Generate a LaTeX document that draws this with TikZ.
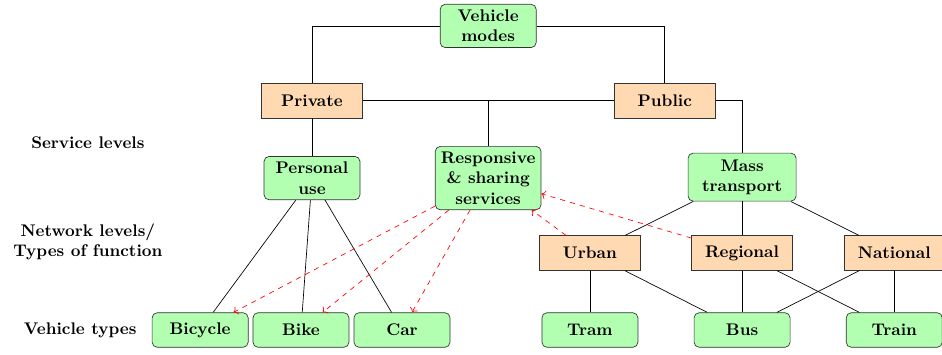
\documentclass[tikz,border=0pt]{standalone}
\usepackage{tikz}
\usetikzlibrary{positioning,arrows.meta}

\begin{document}
\begin{tikzpicture}[
  font=\bfseries,
  mode/.style={draw=black!80, rounded corners=3pt, fill=green!30, align=center, minimum width=2cm, minimum height=0.72cm},
  netlevel/.style={draw=black!80, fill=orange!30, align=center, minimum width=2.1cm, minimum height=0.72cm},
  rowlabel/.style={align=center},
  share/.style={->, red, dashed}
]
\useasboundingbox (0,0) rectangle (19.625,-7.375);
% row labels
\node[rowlabel] (lblservice) at (1.83,-2.98) {Service levels};
\node[rowlabel] (lblnetwork) at (1.83,-5.04) {Network levels/\\Types of function};
\node[rowlabel] (lbltypes) at (1.67,-6.875) {Vehicle types};
% tree
\node[mode] (modes) at (10.17,-0.54) {Vehicle\\modes};
\node[netlevel] (private) at (6.5,-2.1) {Private};
\node[netlevel] (public) at (13.85,-2.1) {Public};
\node[mode] (personal) at (6.5,-3.71) {Personal\\use};
\node[mode] (responsive) at (10.17,-3.71) {Responsive\\\& sharing\\services};
\node[mode, minimum width=2.25cm, minimum height=1cm] (mass) at (15.46,-3.69) {Mass\\transport};
\node[netlevel] (urban) at (12.29,-5.27) {Urban};
\node[netlevel] (regional) at (15.46,-5.27) {Regional};
\node[netlevel] (national) at (18.63,-5.27) {National};
\node[mode] (bicycle) at (4.17,-6.875) {Bicycle};
\node[mode] (bike) at (6.27,-6.875) {Bike};
\node[mode] (car) at (8.375,-6.875) {Car};
\node[mode] (tram) at (12.29,-6.875) {Tram};
\node[mode] (bus) at (15.46,-6.875) {Bus};
\node[mode] (train) at (18.63,-6.875) {Train};
\draw (modes.west) -| (private.north);
\draw (modes.east) -| (public.north);
\draw (private.east) -- (public.west);
\draw (private.east) -| (responsive.north);
\draw (public.east) -| (mass.north);
\draw (private) -- (personal);
\draw (personal) -- (bicycle);
\draw (personal) -- (bike);
\draw (personal) -- (car);
\draw (mass) -- (urban);
\draw (mass) -- (regional);
\draw (mass) -- (national);
\draw (urban) -- (tram);
\draw (urban) -- (bus);
\draw (regional) -- (bus);
\draw (regional) -- (train);
\draw (national) -- (bus);
\draw (national) -- (train);
% sharing links
\draw[share] (responsive) -- (bicycle);
\draw[share] (responsive) -- (bike);
\draw[share] (responsive) -- (car);
\draw[share] (urban) -- (responsive);
\draw[share] (regional) -- (responsive);
\end{tikzpicture}
\end{document}
